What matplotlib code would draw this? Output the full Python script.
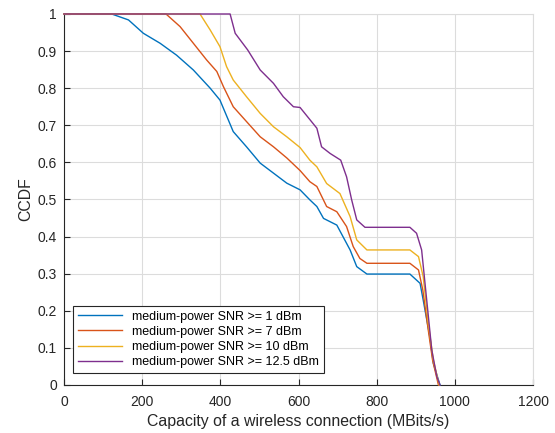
import numpy as np
import matplotlib.pyplot as plt
from matplotlib.ticker import FuncFormatter

plt.rcParams["font.family"] = ["Liberation Sans", "DejaVu Sans"]

# CCDF traces per SNR threshold (capacity in MBits/s, CCDF value)
snr1_x = [0, 122, 165, 203, 246, 288, 331, 374, 399, 433, 467, 502, 536, 570, 604,
          629, 647, 664, 698, 732, 749, 775, 885, 911, 919, 936, 945, 962]
snr1_y = [1.0, 1.0, 0.984, 0.948, 0.921, 0.889, 0.849, 0.800, 0.768, 0.683, 0.642,
          0.598, 0.571, 0.544, 0.526, 0.499, 0.481, 0.449, 0.431, 0.364, 0.319, 0.299,
          0.299, 0.274, 0.229, 0.130, 0.058, 0.0]

snr7_x = [0, 261, 297, 331, 365, 391, 408, 433, 467, 502, 536, 570, 604, 629, 647,
          672, 698, 723, 740, 757, 775, 885, 907, 918, 932, 943, 958]
snr7_y = [1.0, 1.0, 0.966, 0.921, 0.876, 0.845, 0.804, 0.750, 0.710, 0.669, 0.642,
          0.612, 0.578, 0.548, 0.535, 0.481, 0.467, 0.427, 0.373, 0.341, 0.328, 0.328,
          0.310, 0.256, 0.148, 0.067, 0.0]

snr10_x = [0, 348, 374, 399, 416, 433, 467, 502, 536, 570, 604, 629, 647, 672, 706,
           732, 749, 775, 885, 907, 919, 932, 945, 960]
snr10_y = [1.0, 1.0, 0.957, 0.912, 0.858, 0.822, 0.777, 0.732, 0.696, 0.669, 0.640,
           0.606, 0.588, 0.543, 0.516, 0.454, 0.391, 0.364, 0.364, 0.346, 0.292, 0.166,
           0.067, 0.0]

snr125_x = [0, 425, 438, 470, 502, 536, 561, 587, 604, 647, 659, 681, 708, 723, 736,
            749, 770, 885, 902, 915, 928, 941, 954, 962]
snr125_y = [1.0, 1.0, 0.948, 0.903, 0.849, 0.813, 0.777, 0.750, 0.748, 0.692, 0.642,
            0.624, 0.606, 0.561, 0.499, 0.445, 0.425, 0.425, 0.409, 0.364, 0.229, 0.094,
            0.022, 0.0]

labels = ["medium-power SNR >= 1 dBm", "medium-power SNR >= 7 dBm",
          "medium-power SNR >= 10 dBm", "medium-power SNR >= 12.5 dBm"]
colors = ["#0072BD", "#D95319", "#EDB120", "#7E2F8E"]

fig = plt.figure(figsize=(5.55, 4.33), dpi=100)
ax = fig.add_axes([0.1153, 0.1109, 0.8451, 0.8568])

series = [(snr1_x, snr1_y), (snr7_x, snr7_y), (snr10_x, snr10_y), (snr125_x, snr125_y)]
for (xs, ys), lab, c in zip(series, labels, colors):
    ax.plot(xs, ys, color=c, lw=1.0, label=lab, clip_on=False, zorder=3)

ax.set_xlim(0, 1200)
ax.set_ylim(0, 1)
ax.set_xticks(np.arange(0, 1201, 200))
ax.set_yticks(np.arange(0, 1.01, 0.1))
ax.yaxis.set_major_formatter(FuncFormatter(lambda v, p: "%g" % round(v, 1)))
ax.tick_params(direction="in", length=4, labelsize=10, colors="#262626")
ax.tick_params(axis="x", pad=7)
ax.tick_params(axis="y", pad=5)
ax.grid(True, color="#dcdcdc", lw=0.8)
ax.set_axisbelow(True)
for s in ["top", "right"]:
    ax.spines[s].set_color("#dcdcdc")
for s in ["left", "bottom"]:
    ax.spines[s].set_color("#262626")

ax.set_xlabel("Capacity of a wireless connection (MBits/s)", fontsize=11.4,
              color="#262626", labelpad=4)
ax.set_ylabel("CCDF", fontsize=11.4, color="#262626", labelpad=3)

leg = ax.legend(loc="lower left", bbox_to_anchor=(0.02, 0.032), borderaxespad=0,
                fontsize=9, handlelength=3.5, labelspacing=0.25, fancybox=False,
                framealpha=1, edgecolor="#262626", borderpad=0.4)
leg.get_frame().set_linewidth(0.8)

fig.savefig("out.png", dpi=100)
